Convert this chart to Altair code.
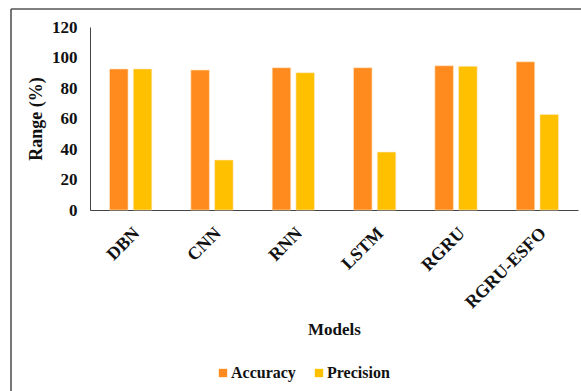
import altair as alt
import pandas as pd

# Model comparison: accuracy and precision (%)
models = ["DBN", "CNN", "RNN", "LSTM", "RGRU", "RGRU-ESFO"]
accuracy = [92.5, 91.8, 93.3, 93.3, 94.6, 97.2]
precision = [92.5, 32.8, 90.0, 38.0, 94.2, 62.7]
metrics = ["Accuracy", "Precision"]
colors = ["#FF8B1E", "#FFC000"]

rows = []
for m, a, p in zip(models, accuracy, precision):
    rows.append({"Model": m, "Metric": "Accuracy", "Value": a})
    rows.append({"Model": m, "Metric": "Precision", "Value": p})
df = pd.DataFrame(rows)

FONT = "Liberation Serif"

bars = alt.Chart(df).mark_bar(stroke="#FFE8C8", strokeWidth=0.6).encode(
    x=alt.X(
        "Model:N",
        sort=models,
        scale=alt.Scale(paddingInner=0.48, paddingOuter=0.24),
        axis=alt.Axis(
            title="Models",
            labelAngle=-45,
            labelFontSize=18,
            labelPadding=14,
            ticks=False,
            titleFontSize=17,
            titlePadding=10,
        ),
    ),
    xOffset=alt.XOffset("Metric:N", sort=metrics, scale=alt.Scale(paddingInner=0.22)),
    y=alt.Y(
        "Value:Q",
        scale=alt.Scale(domain=[0, 120], nice=False),
        axis=alt.Axis(
            title="Range (%)",
            values=[0, 20, 40, 60, 80, 100, 120],
            grid=False,
            ticks=False,
            labelFontSize=17,
            labelPadding=13,
            titleFontSize=18,
            titlePadding=6,
        ),
    ),
    color=alt.Color(
        "Metric:N",
        sort=metrics,
        scale=alt.Scale(domain=metrics, range=colors),
        legend=alt.Legend(
            title=None,
            orient="none",
            direction="horizontal",
            legendX=125,
            legendY=338,
            padding=0,
            symbolType="square",
            symbolSize=70,
            symbolStrokeWidth=0,
            labelFontSize=16,
            labelOffset=0,
            columnPadding=15,
        ),
    ),
)

# Outer frame lines (top and left edges)
frame_df = pd.DataFrame({"k": [0]})
top_edge = alt.Chart(frame_df).mark_rule(color="#555", strokeWidth=1.6).encode(
    x=alt.value(-79), x2=alt.value(600), y=alt.value(-18)
)
left_edge = alt.Chart(frame_df).mark_rule(color="#555", strokeWidth=1.6).encode(
    x=alt.value(-79), y=alt.value(-18), y2=alt.value(400)
)

chart = (
    alt.layer(bars, top_edge, left_edge)
    .properties(
        width=488,
        height=183,
        autosize=alt.AutoSizeParams(type="none"),
        padding={"left": 90, "top": 27, "right": 3, "bottom": 181},
        background="white",
    )
    .configure(font=FONT)
    .configure_view(stroke=None)
    .configure_axis(
        labelFont=FONT,
        labelFontWeight="bold",
        labelColor="#111",
        titleFont=FONT,
        titleFontWeight="bold",
        titleColor="#111",
        domainColor="#444",
    )
    .configure_legend(
        labelFont=FONT,
        labelFontWeight="bold",
        labelColor="#111",
    )
)

chart.save("out.html", embed_options={"renderer": "svg", "actions": False})
